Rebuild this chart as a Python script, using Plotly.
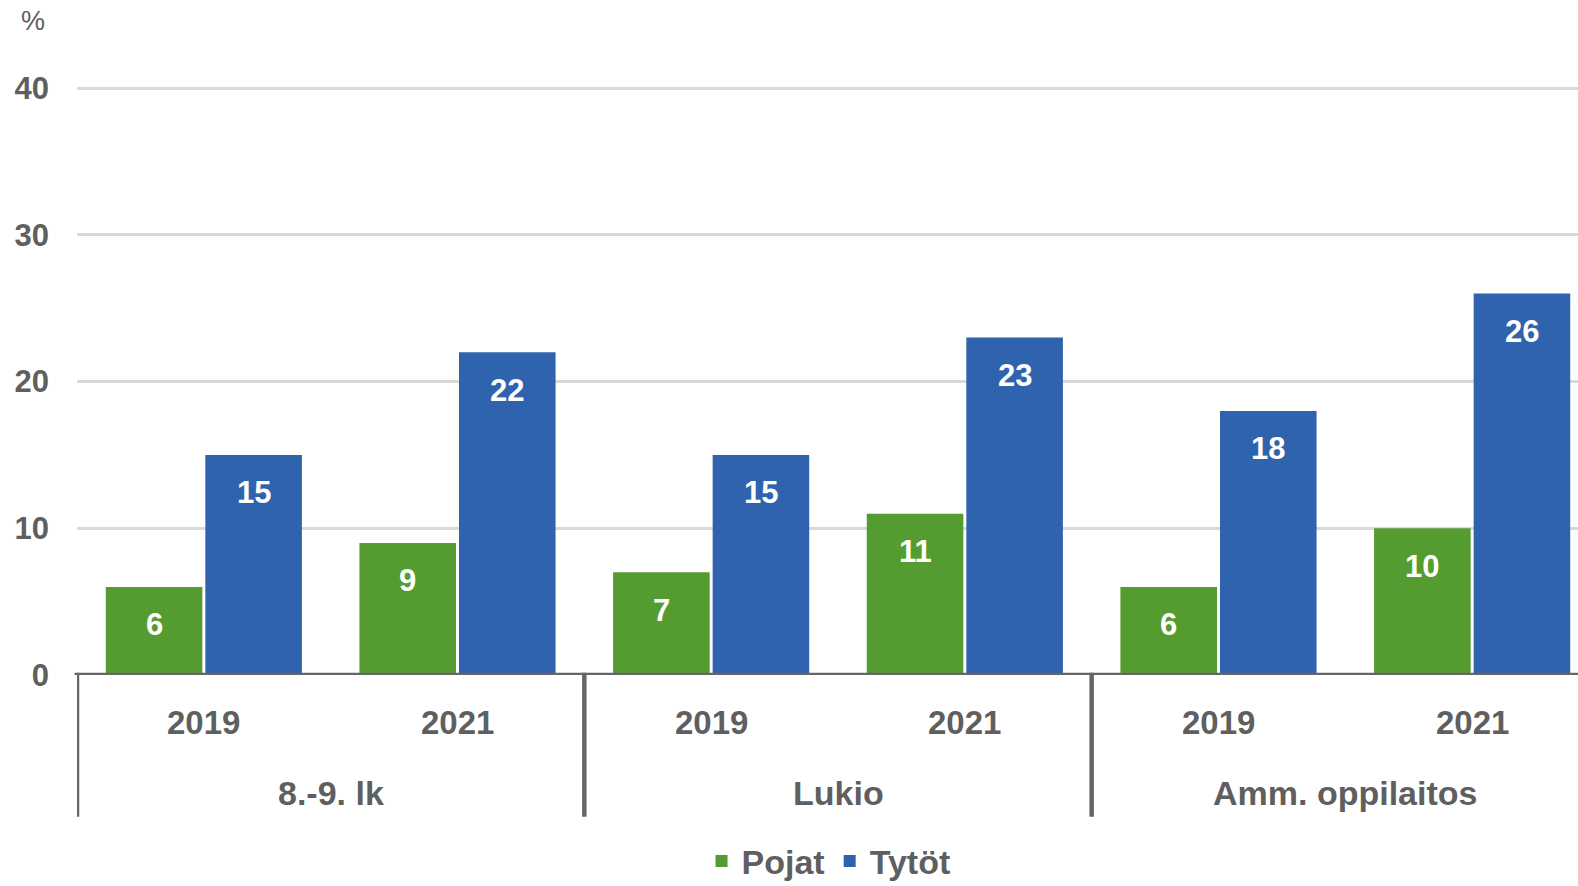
import plotly.graph_objects as go

groups = ["8.-9. lk", "8.-9. lk", "Lukio", "Lukio", "Amm. oppilaitos", "Amm. oppilaitos"]
years = ["2019", "2021", "2019", "2021", "2019", "2021"]
pojat = [6, 9, 7, 11, 6, 10]
tytot = [15, 22, 15, 23, 18, 26]
y_ticks = [0, 10, 20, 30, 40]

FONT = "Liberation Sans, Arial, sans-serif"
GREEN = "#549C30"
BLUE = "#3063AD"
TXT = "#5F5F5F"
AXIS = "#666666"
BARGAP = 0.215
BARGROUPGAP = 0.03

xpos = list(range(len(years)))
series = [("Pojat", pojat, GREEN), ("Tytöt", tytot, BLUE)]

fig = go.Figure()
for name, vals, col in series:
    fig.add_trace(go.Bar(x=xpos, y=vals, name=name,
                         marker=dict(color=col, line=dict(width=0))))

# value labels inside the bar tops
slot = (1 - BARGAP) / len(series)
for k, (name, vals, col) in enumerate(series):
    off = -(1 - BARGAP) / 2 + slot * (k + 0.5)
    for i, v in enumerate(vals):
        fig.add_annotation(x=xpos[i] + off, y=v, xref="x", yref="y", text=str(v),
                           showarrow=False, yshift=-38, yanchor="middle",
                           font=dict(family=FONT, size=31, color="white", weight="bold"))

# year labels
for i, yr in enumerate(years):
    fig.add_annotation(x=xpos[i], y=-0.0802, xref="x", yref="paper", text=yr,
                       showarrow=False, yanchor="middle",
                       font=dict(family=FONT, size=33, color=TXT, weight="bold"))

# group labels and dividers
uniq = []
for g in groups:
    if g not in uniq:
        uniq.append(g)
for g in uniq:
    idx = [i for i, gg in enumerate(groups) if gg == g]
    fig.add_annotation(x=sum(idx) / len(idx), y=-0.2011, xref="x", yref="paper", text=g,
                       showarrow=False, yanchor="middle",
                       font=dict(family=FONT, size=34, color=TXT, weight="bold"))
    fig.add_shape(type="line", xref="x", yref="paper", x0=idx[0] - 0.5, x1=idx[0] - 0.5,
                  y0=0.004, y1=-0.2405, line=dict(color=AXIS, width=4.5), layer="above")

# axis line at zero
fig.add_shape(type="line", xref="paper", yref="y", x0=-0.0017, x1=1, y0=0, y1=0,
              line=dict(color=AXIS, width=4.5), layer="above")

fig.add_annotation(text="%", xref="paper", yref="paper", x=-0.0295, y=1.0, yshift=65,
                   showarrow=False, xanchor="center", yanchor="middle",
                   font=dict(family=FONT, size=27, color=TXT))

fig.update_layout(
    width=1578, height=886,
    margin=dict(l=76.5, r=0, t=85.5, b=210.5, autoexpand=False),
    paper_bgcolor="white", plot_bgcolor="white",
    barmode="group", bargap=BARGAP, bargroupgap=BARGROUPGAP,
    font=dict(family=FONT, color=TXT, size=30),
    showlegend=True,
    legend=dict(orientation="h", x=0.5007, xanchor="center", y=-0.3166, yanchor="middle",
                font=dict(family=FONT, size=34, color=TXT, weight="bold"),
                itemwidth=30, itemclick=False),
)
fig.update_yaxes(
    range=[0, 40.15], tickvals=y_ticks, showgrid=True, gridcolor="#D9D9D9", gridwidth=3,
    zeroline=False, showline=False, ticks="", ticklabelstandoff=27, automargin=False,
    tickfont=dict(family=FONT, size=31, color=TXT, weight="bold"),
)
fig.update_xaxes(
    range=[-0.5, (1578 - 76.5) / 253.75 - 0.5], showticklabels=False, showgrid=False,
    zeroline=False, showline=False, ticks="", automargin=False,
)

fig.write_html("out.html", config={"displayModeBar": False},
               post_script="document.body.style.margin='0';")
